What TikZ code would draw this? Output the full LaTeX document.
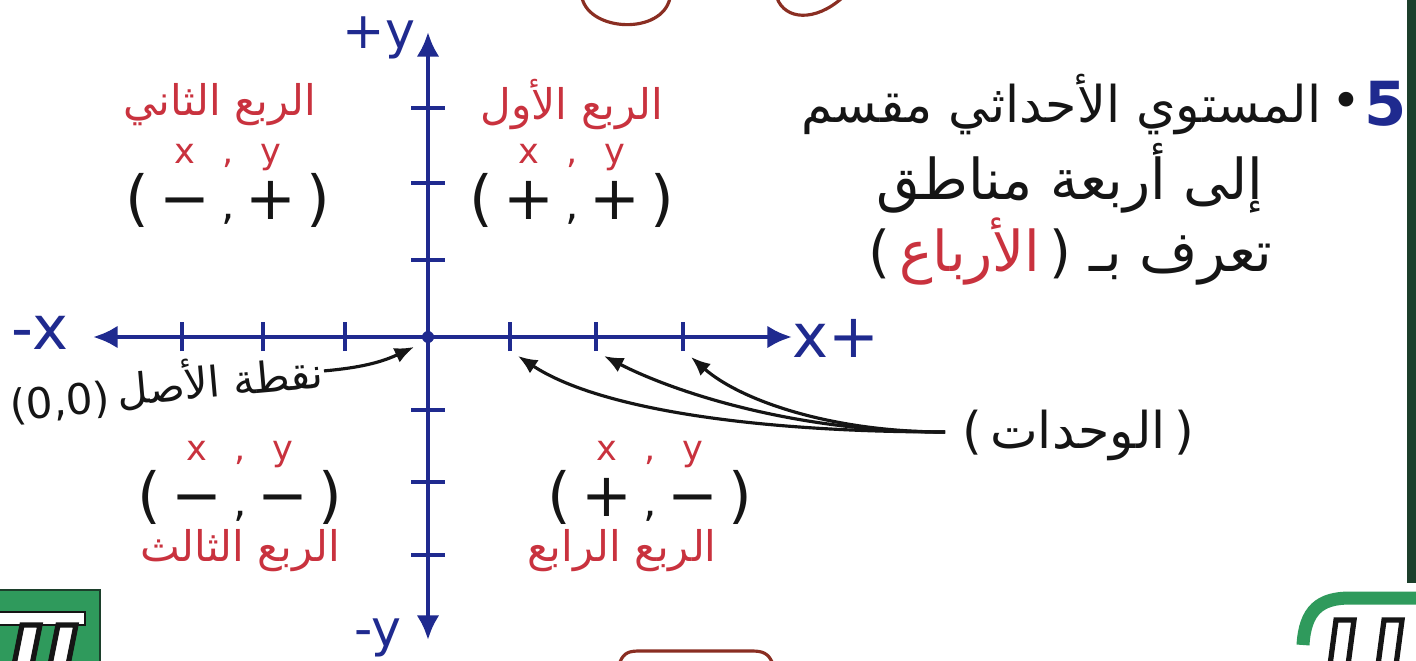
\documentclass[tikz,border=0pt]{standalone}
\usepackage{fontspec}
\setmainfont{DejaVu Sans}
\newfontfamily\arabicfont[Script=Arabic]{DejaVu Sans}
\TeXXeTstate=1
\usetikzlibrary{arrows.meta,positioning}
\definecolor{AxisBlue}{HTML}{1F2A8F}
\definecolor{QuadRed}{HTML}{C9323E}
\definecolor{Ink}{HTML}{151515}
\definecolor{FrameRed}{HTML}{8A2E22}
\definecolor{LogoGreen}{HTML}{2F9A5C}
\definecolor{EdgeGreen}{HTML}{1C3F2B}
\newcommand{\artext}[1]{{\arabicfont\beginR #1\endR}}
\newcommand{\signpair}[2]{%
  \begin{tabular}{@{}c@{\hspace{3pt}}c@{\hspace{3pt}}c@{\hspace{3pt}}c@{\hspace{3pt}}c@{}}
    & \textcolor{QuadRed}{\normalsize x} & \textcolor{QuadRed}{\normalsize ,} & \textcolor{QuadRed}{\normalsize y} & \\[-1pt]
    \LARGE ( & \LARGE #1 & \large , & \LARGE #2 & \LARGE )
  \end{tabular}}

\begin{document}
\begin{tikzpicture}[x=0.01cm,y=0.01cm,>=Latex,
  axisline/.style={AxisBlue,line width=1.3pt},
  axistips/.style={{Latex[length=7pt,width=6.5pt]}-{Latex[length=7pt,width=6.5pt]}},
  tickmark/.style={AxisBlue,line width=1.2pt},
  unitarrow/.style={-{Latex[length=5.5pt,width=4.5pt]},Ink,line width=0.9pt},
  axislabel/.style={text=AxisBlue,font=\LARGE,inner sep=0pt},
  qname/.style={text=QuadRed,font=\large,inner sep=0pt},
  qsigns/.style={text=Ink,inner sep=0pt},
  note/.style={text=Ink,font=\Large,inner sep=0pt},
  deco/.style={FrameRed,line width=0.9pt}]
  \useasboundingbox (0,0) rectangle (1416,660);
  \clip (0,0) rectangle (1416,660);
  \fill[white] (0,0) rectangle (1416,660);
  % page furniture cut by the crop
  \draw[deco] (582,662) .. controls (590,628) and (662,625) .. (670,662);
  \draw[deco] (777,662) .. controls (785,640) and (815,638) .. (842,662);
  \draw[deco] (620,-2) .. controls (624,8) and (630,9) .. (640,9) -- (752,9) .. controls (762,9) and (768,7) .. (772,-2);
  \fill[LogoGreen,draw=EdgeGreen] (-5,-5) rectangle (100,70);
  \fill[white,draw=Ink] (-5,35) rectangle (85,48);
  \fill[white,draw=Ink,line width=1.5pt] (22,35) -- (40,35) -- (32,-5) -- (14,-5) -- cycle;
  \fill[white,draw=Ink,line width=1.5pt] (58,35) -- (76,35) -- (68,-5) -- (50,-5) -- cycle;
  \draw[LogoGreen,line width=3.7pt] (1303,15) .. controls (1305,50) and (1320,62) .. (1350,62) -- (1420,62);
  \fill[white,draw=Ink,line width=1.5pt] (1330,-5) -- (1336,40) -- (1354,40) -- (1348,-5) -- cycle;
  \fill[white,draw=Ink,line width=1.5pt] (1378,-5) -- (1384,40) -- (1402,40) -- (1396,-5) -- cycle;
  \fill[EdgeGreen] (1407,77) rectangle (1420,665);

  % axes
  \coordinate (O) at (428,323);
  \coordinate (xneg) at (93,323);
  \coordinate (xpos) at (792,323);
  \coordinate (ypos) at (428,628);
  \coordinate (yneg) at (428,20);
  \draw[axisline,axistips] (xneg) -- (xpos);
  \draw[axisline,axistips] (yneg) -- (ypos);
  \foreach \tx in {182,263,345,510,596,683}
    \draw[tickmark] (\tx,309) -- (\tx,338);
  \foreach \ty in {552,477,400,250,178,105}
    \draw[tickmark] (411,\ty) -- (445,\ty);
  \fill[AxisBlue] (O) circle (6);
  \node[axislabel,font=\Large] (yplus) at (379,622) {+y};
  \node[axislabel,font=\Large] (yminus) at (378,22) {-y};
  \node[axislabel] (xminus) at (40,327) {-x};
  \node[axislabel] (xplus) at (836,322) {x+};

  % quadrants
  \node[qname] (q2name) at (220,555) {\artext{الربع الثاني}};
  \node[qsigns] (q2sign) at (228,477) {\signpair{−}{+}};
  \node[qname] (q1name) at (572,555) {\artext{الربع الأول}};
  \node[qsigns] (q1sign) at (572,477) {\signpair{+}{+}};
  \node[qsigns] (q3sign) at (240,180) {\signpair{−}{−}};
  \node[qname] (q3name) at (240,109) {\artext{الربع الثالث}};
  \node[qsigns] (q4sign) at (650,180) {\signpair{+}{−}};
  \node[qname] (q4name) at (622,109) {\artext{الربع الرابع}};

  % statement
  \node[text=AxisBlue,font=\LARGE\bfseries] (num) at (1386,556) {5};
  \node[note] (dot) at (1346,555) {•};
  \node[note,anchor=east] (line1) at (1322,555) {\artext{المستوي الأحداثي مقسم}};
  \node[note,font=\fontsize{16}{18}\selectfont] (line2) at (1070,482) {\artext{إلى أربعة مناطق}};
  \node[note,font=\fontsize{16}{18}\selectfont] (line3) at (1070,408) {(\,\textcolor{QuadRed}{\artext{الأرباع}}\,)\ \artext{تعرف بـ}};

  % origin and units
  \node[note,font=\large,rotate=5] (orig) at (220,280) {\artext{نقطة الأصل}};
  \node[note,font=\large,rotate=5] (origval) at (60,257) {(0,0)};
  \coordinate (otip) at (414,313);
  \draw[unitarrow] (orig.east) to[out=5,in=205] (otip);
  \node[note] (units) at (1078,225) {(\,\artext{الوحدات}\,)};
  \coordinate (hub) at (945,228);
  \coordinate (unit1) at (518,304);
  \coordinate (unit2) at (604,304);
  \coordinate (unit3) at (691,303);
  \draw[unitarrow] (hub) .. controls (760,228) and (600,250) .. (unit1);
  \draw[unitarrow] (hub) .. controls (790,228) and (670,270) .. (unit2);
  \draw[unitarrow] (hub) .. controls (830,228) and (740,260) .. (unit3);
\end{tikzpicture}
\end{document}
